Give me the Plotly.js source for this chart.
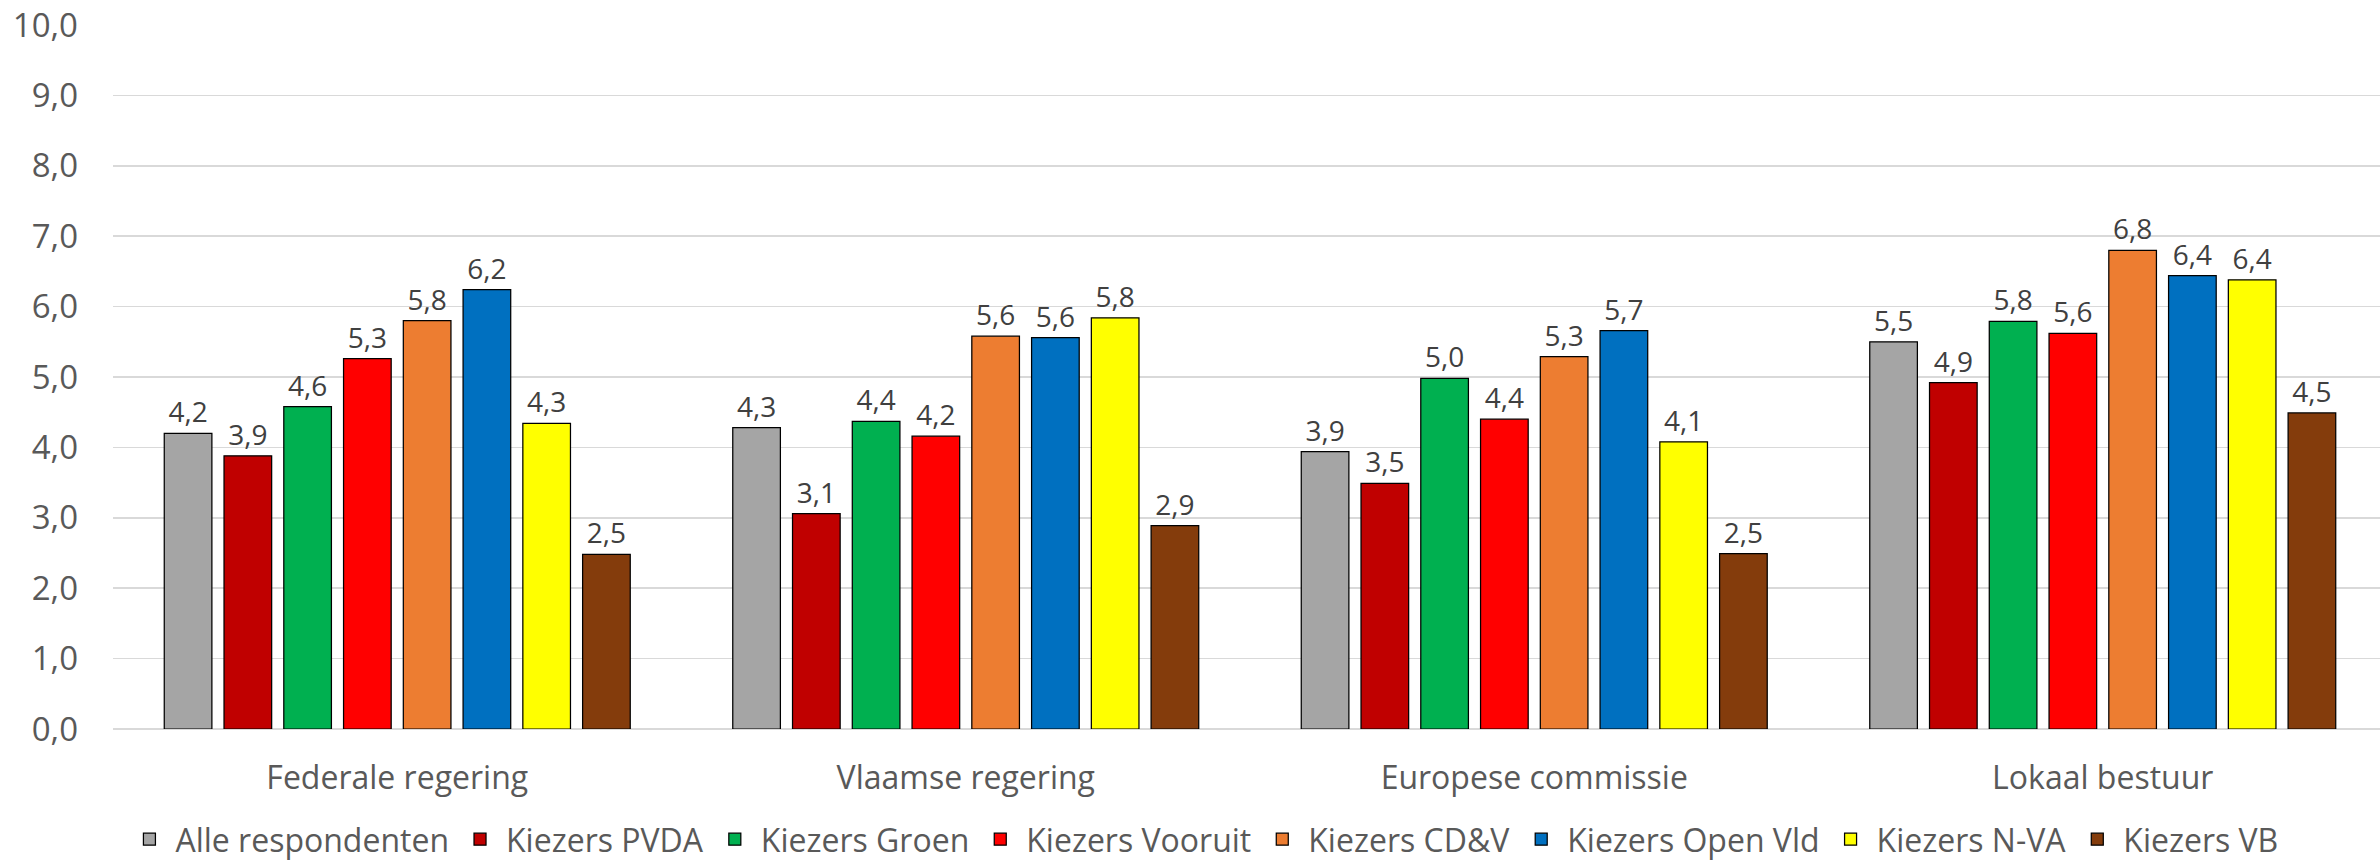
<!DOCTYPE html>
<html>
<head>
<meta charset="utf-8">
<script src="https://cdn.plot.ly/plotly-3.0.1.min.js"></script>
<style>
  html, body { margin: 0; padding: 0; background: #ffffff; }
  #chart { width: 2380px; height: 864px; }
</style>
</head>
<body>
<div id="chart"></div>
<script>
// Categories (x axis)
const categories = ["Federale regering", "Vlaamse regering", "Europese commissie", "Lokaal bestuur"];

// Series names (legend)
const seriesNames = [
  "Alle respondenten", "Kiezers PVDA", "Kiezers Groen", "Kiezers Vooruit",
  "Kiezers CD&V", "Kiezers Open Vld", "Kiezers N-VA", "Kiezers VB"
];

// Series values, one array per series (order of categories)
const alleRespondenten = [4.20, 4.28, 3.94, 5.50];
const kiezersPVDA      = [3.88, 3.06, 3.49, 4.92];
const kiezersGroen     = [4.58, 4.37, 4.98, 5.79];
const kiezersVooruit   = [5.26, 4.16, 4.40, 5.62];
const kiezersCDV       = [5.80, 5.58, 5.29, 6.80];
const kiezersOpenVld   = [6.24, 5.56, 5.66, 6.44];
const kiezersNVA       = [4.34, 5.84, 4.08, 6.38];
const kiezersVB        = [2.48, 2.89, 2.49, 4.49];

const seriesValues = [
  alleRespondenten, kiezersPVDA, kiezersGroen, kiezersVooruit,
  kiezersCDV, kiezersOpenVld, kiezersNVA, kiezersVB
];

const seriesColors = [
  "#A5A5A5", "#C00000", "#00B050", "#FF0000",
  "#ED7D31", "#0070C0", "#FFFF00", "#843C0C"
];

// y axis ticks
const yTickValues = [0, 1, 2, 3, 4, 5, 6, 7, 8, 9, 10];

const FONT = "'Open Sans', 'Noto Sans', sans-serif";

const traces = seriesNames.map((name, i) => ({
  type: "bar",
  name: name,
  x: categories,
  y: seriesValues[i],
  marker: { color: seriesColors[i], line: { color: "#000000", width: 1.25 } },
  texttemplate: "%{y:.1f}",
  textposition: "outside",
  constraintext: "none",
  cliponaxis: false,
  textfont: { family: FONT, size: 28, color: "#404040" },
  hoverinfo: "skip"
}));

const layout = {
  width: 2380,
  height: 864,
  margin: { l: 113, r: 0, t: 25, b: 135, pad: 0 },
  paper_bgcolor: "#ffffff",
  plot_bgcolor: "#ffffff",
  separators: ",.",
  barmode: "group",
  bargap: 0.159,
  bargroupgap: 0.203,
  font: { family: FONT, color: "#595959" },
  xaxis: {
    type: "category",
    range: [-0.5, 3.4877],
    showgrid: false,
    showline: false,
    zeroline: false,
    ticks: "",
    automargin: false,
    ticklabelstandoff: 27,
    tickfont: { family: FONT, size: 32, color: "#595959" },
    fixedrange: true
  },
  yaxis: {
    range: [0, 10],
    tickvals: yTickValues,
    tickformat: ".1f",
    showgrid: true,
    gridcolor: "#D9D9D9",
    gridwidth: 1.5,
    zeroline: true,
    zerolinecolor: "#D9D9D9",
    zerolinewidth: 1.5,
    showline: false,
    ticks: "",
    automargin: false,
    ticklabelstandoff: 34,
    tickfont: { family: FONT, size: 33, color: "#595959" },
    fixedrange: true
  },
  showlegend: true,
  legend: {
    orientation: "h",
    xref: "paper",
    x: 0.481,
    xanchor: "center",
    yref: "container",
    y: 0.0285,
    yanchor: "middle",
    itemwidth: 42,
    font: { family: FONT, size: 32, color: "#595959" },
    bgcolor: "rgba(0,0,0,0)",
    traceorder: "normal"
  }
};

Plotly.newPlot("chart", traces, layout, { displayModeBar: false, staticPlot: true });
</script>
</body>
</html>
